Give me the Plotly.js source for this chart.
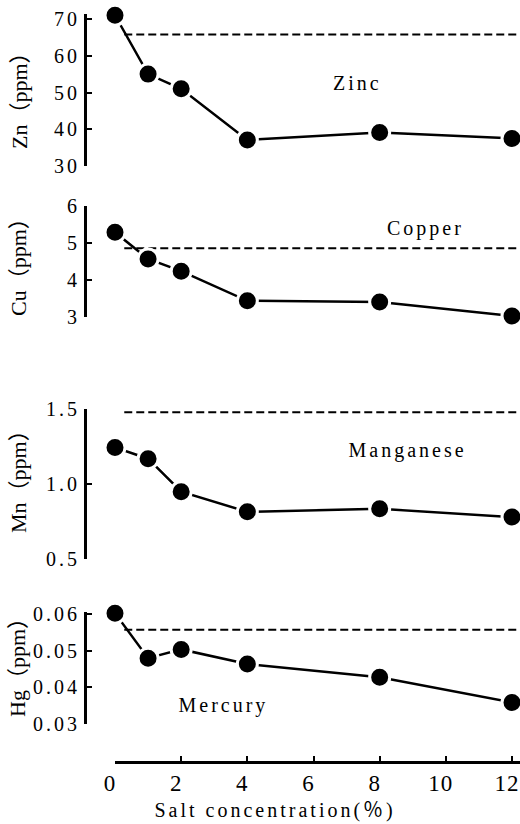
<!DOCTYPE html>
<html><head><meta charset="utf-8">
<script src="https://cdn.plot.ly/plotly-3.0.1.min.js"></script>
<style>
html,body{margin:0;padding:0;background:#fff}
#chart{width:520px;height:824px}
g[class*="tick"] > text,
.annotation[data-index="0"] .annotation-text, .annotation[data-index="1"] .annotation-text,
.annotation[data-index="2"] .annotation-text, .annotation[data-index="3"] .annotation-text,
.annotation[data-index="4"] .annotation-text {letter-spacing:3px}
g.xtick > text {letter-spacing:1px}
</style></head><body><div id="chart"></div>
<script>
// Salt concentration (%)
const salt = [0, 1, 2, 4, 8, 12];
// Metal content (ppm)
const zinc      = [71, 55, 51, 37.1, 39.1, 37.5];
const copper    = [5.28, 4.56, 4.23, 3.43, 3.40, 3.02];
const manganese = [1.245, 1.17, 0.95, 0.815, 0.835, 0.78];
const mercury   = [0.0603, 0.0480, 0.0504, 0.0464, 0.0428, 0.0359];
// Reference (dashed) levels
const refX      = [0.28, 12.5];
const zincRef   = [65.8, 65.8];
const copperRef = [4.85, 4.85];
const mnRef     = [1.48, 1.48];
const hgRef     = [0.0558, 0.0558];
// Tick labels
const xTicks  = [0, 2, 4, 6, 8, 10, 12];
const znTicks = [30, 40, 50, 60, 70];
const cuTicks = [3, 4, 5, 6];
const mnTicks = [0.5, 1.0, 1.5];
const mnText  = ['0.5', '1.0', '1.5'];
const hgTicks = [0.03, 0.04, 0.05, 0.06];
const hgText  = ['0.03', '0.04', '0.05', '0.06'];
const xTitle  = 'Salt concentration(％)';
const yTitles = ['Zn（ppm）', 'Cu（ppm）', 'Mn（ppm）', 'Hg（ppm）'];
const labels  = ['Zinc', 'Copper', 'Manganese', 'Mercury'];

const W = 520, H = 824;
const FONT = "'Liberation Serif', 'Noto Sans CJK JP', serif";

function dashed(y, ax) {
  return {x: refX, y: y, xaxis: 'x', yaxis: ax, mode: 'lines', hoverinfo: 'skip',
    line: {color: '#000', width: 2, dash: '8px,4px'}};
}
function series(y, ax) {
  return {x: salt, y: y, xaxis: 'x', yaxis: ax, mode: 'lines+markers', cliponaxis: false,
    line: {color: '#000', width: 2.5},
    marker: {color: '#000', size: 20, line: {color: '#fff', width: 3}}};
}
const data = [
  dashed(zincRef, 'y'), series(zinc, 'y'),
  dashed(copperRef, 'y2'), series(copper, 'y2'),
  dashed(mnRef, 'y3'), series(manganese, 'y3'),
  dashed(hgRef, 'y4'), series(mercury, 'y4')
];

const px = v => v / W;
const py = v => 1 - v / H;
// dom: [pixel of top tick value, pixel of bottom tick value]; shown: value range drawn
function yax(dom, tickRange, shown, tickvals, ticktext) {
  const k = (dom[1] - dom[0]) / (tickRange[1] - tickRange[0]);
  const top = dom[0] - (shown[1] - tickRange[1]) * k;
  const a = {
    domain: [py(dom[1]), py(top)], range: shown, anchor: 'free', position: px(85),
    showline: true, linecolor: '#000', linewidth: 2.5,
    ticks: 'inside', ticklen: 5, tickwidth: 2, tickcolor: '#000',
    tickvals: tickvals, showgrid: false, zeroline: false,
    tickfont: {size: 20, family: FONT, color: '#000'}
  };
  if (ticktext) a.ticktext = ticktext;
  return a;
}
const layout = {
  width: W, height: H, margin: {l: 0, r: 0, t: 0, b: 0},
  showlegend: false, paper_bgcolor: '#fff', plot_bgcolor: 'rgba(0,0,0,0)',
  font: {family: FONT, color: '#000', size: 20},
  xaxis: {
    domain: [px(115), 1], range: [0, 12 * (W - 115) / (512 - 115)],
    anchor: 'free', position: py(762), side: 'bottom',
    showline: true, linecolor: '#000', linewidth: 2.5,
    ticks: 'inside', ticklen: 5, tickwidth: 2, tickcolor: '#000',
    tickvals: xTicks, showgrid: false, zeroline: false,
    ticklabelshift: -5,
    tickfont: {size: 23, family: FONT, color: '#000'}
  },
  yaxis:  yax([19, 166], [30, 70], [30, 71.3], znTicks, null),
  yaxis2: yax([205.7, 316.7], [3, 6], [3, 6], cuTicks, null),
  yaxis3: yax([409.3, 559], [0.5, 1.5], [0.5, 1.5], mnTicks, mnText),
  yaxis4: yax([614.3, 724], [0.03, 0.06], [0.03, 0.0606], hgTicks, hgText),
  annotations: [
    {text: labels[0], x: px(357), y: py(83)},
    {text: labels[1], x: px(425), y: py(228)},
    {text: labels[2], x: px(407), y: py(450)},
    {text: labels[3], x: px(223), y: py(705)},
    {text: xTitle, x: px(275), y: py(810)}
  ].map(a => Object.assign(a, {font: {size: 20, family: FONT, color: '#000'}})).concat([
    {text: yTitles[0], x: px(19), y: py(95)},
    {text: yTitles[1], x: px(18), y: py(262)},
    {text: yTitles[2], x: px(18), y: py(476)},
    {text: yTitles[3], x: px(17), y: py(662)}
  ].map(a => Object.assign(a, {textangle: -90, font: {size: 22, family: FONT, color: '#000'}})))
  .map(a => Object.assign(a, {xref: 'paper', yref: 'paper', showarrow: false,
    xanchor: 'center', yanchor: 'middle'}))
};
Plotly.newPlot('chart', data, layout, {displayModeBar: false, staticPlot: true});
</script></body></html>
